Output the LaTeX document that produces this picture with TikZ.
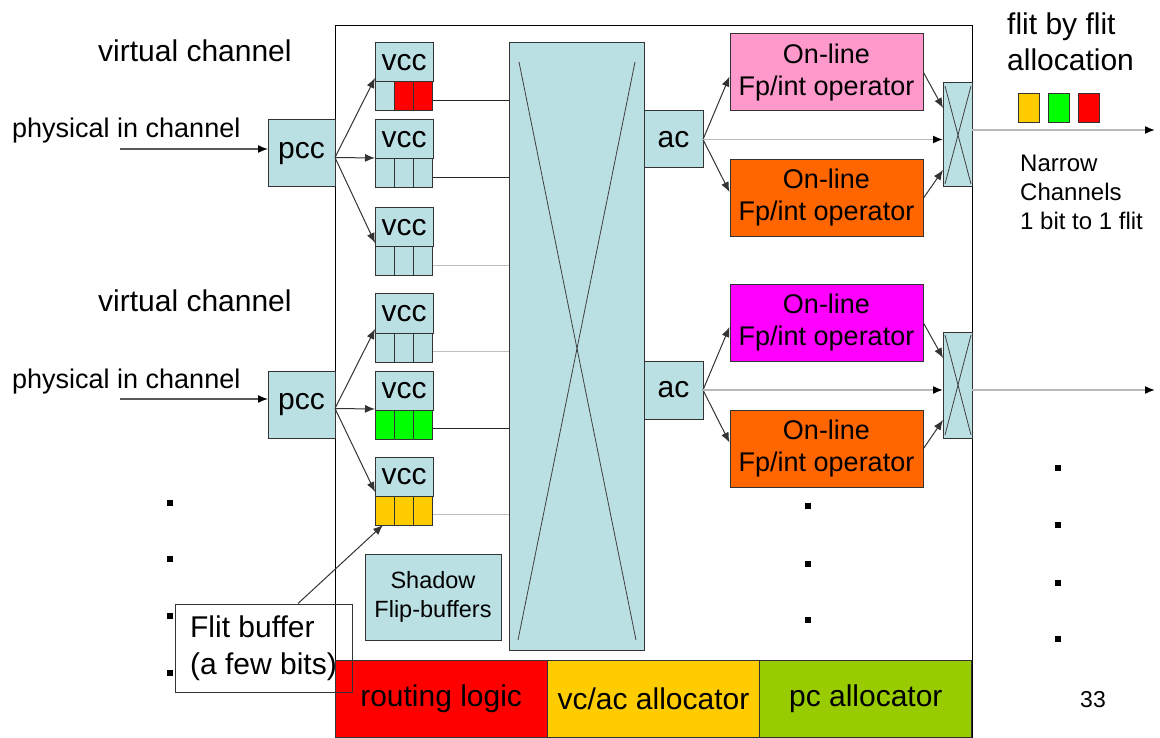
\documentclass[tikz,border=0pt]{standalone}
\usepackage{fontspec}
\setmainfont{Liberation Sans}
\usetikzlibrary{positioning}
\usetikzlibrary{arrows.meta}
\definecolor{chan}{RGB}{187,224,228}
\definecolor{oppink}{RGB}{255,153,204}
\definecolor{oporange}{RGB}{255,102,0}
\definecolor{opmagenta}{RGB}{255,0,255}
\definecolor{vcyellow}{RGB}{255,204,0}
\definecolor{pcgreen}{RGB}{153,204,0}
\tikzset{
	blk/.style={draw=black!80, fill=chan, line width=1pt, inner sep=0pt, outer sep=0pt},
	cell/.style={blk, minimum width=19.33pt, minimum height=29pt},
	big/.style={font=\fontsize{30}{36}\selectfont},
	mid/.style={font=\fontsize{27}{32}\selectfont},
	op/.style={draw=black!80, line width=1pt, inner sep=0pt, minimum width=193pt, minimum height=77pt, align=center, mid},
	bar/.style={draw=black!80, line width=1pt, inner sep=0pt, outer sep=0pt, minimum width=212.33pt, minimum height=77pt, big},
	sq/.style={draw=black!80, line width=0.8pt, minimum width=21pt, minimum height=29pt, inner sep=0pt},
	arr/.style={draw=black!80, line width=1pt, -{Latex[length=10pt,width=8pt]}},
	garr/.style={draw=gray!55, line width=1.6pt, -{Latex[length=10pt,width=8pt,color=black]}},
	inarr/.style={draw=black!65, line width=1.4pt, -{Latex[length=10pt,width=8pt,color=black]}},
	dline/.style={draw=black!85, line width=1pt},
	gline/.style={draw=gray!50, line width=1.6pt},
	xline/.style={draw=black!75, line width=0.8pt}
}
\newcommand{\vccbox}[5]% name, top left corner, colours of the three cells
{\node[blk, big, minimum width=58pt, minimum height=39pt, anchor=north west] (#1) at (#2) {vcc};
\node[cell, fill=#3, anchor=north west] (#1a) at (#1.south west) {};
\node[cell, fill=#4, right=0pt of #1a] (#1b) {};
\node[cell, fill=#5, right=0pt of #1b] (#1c) {};
}

\begin{document}
\begin{tikzpicture}[x=1pt,y=-1pt]
	\useasboundingbox (0,0) rectangle (1160,738);
	\node[draw, line width=1pt, inner sep=0pt, minimum width=637pt, minimum height=712pt, anchor=north west] (router) at (335,25) {};
	% allocators
	\node[bar, fill=red, anchor=north west] (rl) at (335,660) {routing logic};
	\node[bar, fill=vcyellow, right=0pt of rl] (vca) {vc/ac allocator};
	\node[bar, fill=pcgreen, right=0pt of vca] (pca) {pc allocator};
	% input side
	\node[anchor=base west, inner sep=0pt, big] (vc1) at (98,62) {virtual channel};
	\node[anchor=base west, inner sep=0pt, mid] (pin1) at (12,138) {physical in channel};
	\node[anchor=base west, inner sep=0pt, big] (vc2) at (98,312) {virtual channel};
	\node[anchor=base west, inner sep=0pt, mid] (pin2) at (12,388) {physical in channel};
	\node[blk, big, minimum width=67pt, minimum height=67pt] (pcc1) at (301.5,153.5) {pcc};
	\node[blk, big, minimum width=67pt, minimum height=67pt] (pcc2) at (301.5,404.5) {pcc};
	\vccbox{vcc1}{375,43}{chan}{red}{red}
	\vccbox{vcc2}{375,120}{chan}{chan}{chan}
	\vccbox{vcc3}{375,208}{chan}{chan}{chan}
	\vccbox{vcc4}{375,294}{chan}{chan}{chan}
	\vccbox{vcc5}{375,371}{green}{green}{green}
	\vccbox{vcc6}{375,457}{vcyellow}{vcyellow}{vcyellow}
	\node[blk, align=center, minimum width=136pt, minimum height=86pt, font=\fontsize{23.5}{29}\selectfont] (shadow) at (433,597) {Shadow\\Flip-buffers};
	% crossbar
	\node[blk, minimum width=135pt, minimum height=607pt] (xbar) at (576.5,346.5) {};
	\draw[xline] ([xshift=10pt,yshift=-19pt]xbar.north west) -- ([xshift=-8pt,yshift=10pt]xbar.south east);
	\draw[xline] ([xshift=-9pt,yshift=-19pt]xbar.north east) -- ([xshift=9pt,yshift=10pt]xbar.south west);
	% output side
	\node[blk, big, minimum width=59pt, minimum height=57pt] (ac1) at (673.5,139.5) {ac};
	\node[blk, big, minimum width=59pt, minimum height=58pt] (ac2) at (673.5,390) {ac};
	\node[op, fill=oppink] (op1) at (826.5,72.5) {On-line\\Fp/int operator};
	\node[op, fill=oporange] (op2) at (826.5,198) {On-line\\Fp/int operator};
	\node[op, fill=opmagenta] (op3) at (826.5,323) {On-line\\Fp/int operator};
	\node[op, fill=oporange] (op4) at (826.5,448.5) {On-line\\Fp/int operator};
	\node[blk, minimum width=29pt, minimum height=104pt] (sx1) at (957.5,135) {};
	\node[blk, minimum width=29pt, minimum height=106pt] (sx2) at (957.5,385) {};
	\draw[xline] ([xshift=2pt,yshift=-3pt]sx1.north west) -- ([xshift=-1pt,yshift=3pt]sx1.south east);
	\draw[xline] ([xshift=-1pt,yshift=-3pt]sx1.north east) -- ([xshift=2pt,yshift=3pt]sx1.south west);
	\draw[xline] ([xshift=2pt,yshift=-3pt]sx2.north west) -- ([xshift=-1pt,yshift=3pt]sx2.south east);
	\draw[xline] ([xshift=-1pt,yshift=-3pt]sx2.north east) -- ([xshift=2pt,yshift=3pt]sx2.south west);
	\node[anchor=north west, inner sep=0pt, align=left, big] (fbf) at (1007,13) {flit by flit\\allocation};
	\node[sq, fill=vcyellow] (f1) at (1028.5,107.5) {};
	\node[sq, fill=green] (f2) at (1058.5,107.5) {};
	\node[sq, fill=red] (f3) at (1089,107.5) {};
	\node[anchor=north west, inner sep=0pt, align=left, font=\fontsize{24}{29}\selectfont] (narrow) at (1020,155) {Narrow\\Channels\\1 bit to 1 flit};
	\node[font=\fontsize{23}{28}\selectfont] (pg) at (1093,700) {33};
	% more channels
	\fill (167,500) rectangle +(6,6);
	\fill (167,556) rectangle +(6,6);
	\fill (167,613) rectangle +(6,6);
	\fill (167,670) rectangle +(6,6);
	\fill (805,503) rectangle +(6,6);
	\fill (805,561) rectangle +(6,6);
	\fill (805,617) rectangle +(6,6);
	\fill (1055,465) rectangle +(6,6);
	\fill (1055,522) rectangle +(6,6);
	\fill (1055,580) rectangle +(6,6);
	\fill (1055,636) rectangle +(6,6);
	% connections
	\coordinate (in1) at (120,149);
	\coordinate (in2) at (120,399);
	\draw[inarr] (in1) -- (in1 -| pcc1.west);
	\draw[inarr] (in2) -- (in2 -| pcc2.west);
	\draw[arr] ([yshift=-4pt]pcc1.east) -- ([yshift=4pt]vcc1.south west);
	\draw[arr] ([yshift=-4pt]pcc1.east) -- ([yshift=1pt]vcc2.south west);
	\draw[arr] ([yshift=-4pt]pcc1.east) -- ([yshift=4pt]vcc3.south west);
	\draw[arr] ([yshift=-4pt]pcc2.east) -- ([yshift=4pt]vcc4.south west);
	\draw[arr] ([yshift=-4pt]pcc2.east) -- ([yshift=1pt]vcc5.south west);
	\draw[arr] ([yshift=-4pt]pcc2.east) -- ([yshift=4pt]vcc6.south west);
	\draw[dline] ([yshift=-4pt]vcc1c.east) -- ([yshift=-4pt]vcc1c.east -| xbar.west);
	\draw[dline] ([yshift=-4pt]vcc2c.east) -- ([yshift=-4pt]vcc2c.east -| xbar.west);
	\draw[gline] ([yshift=-4pt]vcc3c.east) -- ([yshift=-4pt]vcc3c.east -| xbar.west);
	\draw[gline] ([yshift=-4pt]vcc4c.east) -- ([yshift=-4pt]vcc4c.east -| xbar.west);
	\draw[dline] ([yshift=-4pt]vcc5c.east) -- ([yshift=-4pt]vcc5c.east -| xbar.west);
	\draw[gline] ([yshift=-4pt]vcc6c.east) -- ([yshift=-4pt]vcc6c.east -| xbar.west);
	\draw[arr] (ac1.east) -- ([yshift=-4pt]op1.west);
	\draw[arr] (ac1.east) -- ([yshift=6pt]op2.west);
	\draw[garr] (ac1.east) -- (ac1.east -| sx1.west);
	\draw[arr] (op1.east) -- ([yshift=27pt]sx1.west);
	\draw[arr] (op2.east) -- ([yshift=-35pt]sx1.west);
	\draw[arr] (ac2.east) -- ([yshift=-4pt]op3.west);
	\draw[arr] (ac2.east) -- ([yshift=6pt]op4.west);
	\draw[garr] (ac2.east) -- (ac2.east -| sx2.west);
	\draw[arr] (op3.east) -- ([yshift=27pt]sx2.west);
	\draw[arr] (op4.east) -- ([yshift=-35pt]sx2.west);
	\coordinate (out1) at (1155,130);
	\coordinate (out2) at (1155,390);
	\draw[garr] (out1 -| sx1.east) -- (out1);
	\draw[garr] (out2 -| sx2.east) -- (out2);
	% flit buffer note
	\node[draw=black!80, line width=1pt, inner sep=0pt, minimum width=177pt, minimum height=88pt, align=left, font=\fontsize{30}{37}\selectfont] (fbuf) at (263.5,648) {Flit buffer\\(a few bits)};
	\draw[arr] ([xshift=34.5pt]fbuf.north) -- ([xshift=8pt]vcc6a.south west);
\end{tikzpicture}
\end{document}
